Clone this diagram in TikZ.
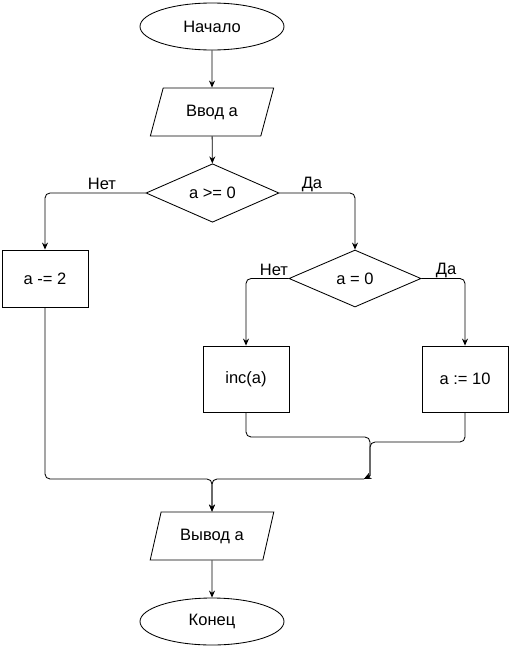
\documentclass[tikz,border=0pt]{standalone}
\usepackage{fontspec}
\setmainfont{Liberation Sans}
\usetikzlibrary{shapes.geometric,arrows.meta}
\begin{document}
\begin{tikzpicture}[x=1pt,y=-1pt, line width=0.85pt,
 every node/.style={font=\fontsize{16.5}{19}\selectfont},
 term/.style={ellipse,draw,minimum width=144pt,minimum height=47pt,inner sep=0pt},
 io/.style={trapezium,trapezium left angle=65,trapezium right angle=115,trapezium stretches=true,draw,minimum width=124pt,minimum height=48pt,inner sep=0pt},
 dec/.style={diamond,draw,minimum width=133pt,minimum height=56pt,inner sep=0pt},
 proc/.style={rectangle,draw,minimum width=86pt,inner sep=0pt},
 arr/.style={-{Stealth[length=7pt,width=6pt]}, rounded corners=5pt},
 lbl/.style={inner sep=0pt}]
\useasboundingbox (0,0) rectangle (510,648);
\fill[white] (0,0) rectangle (510,648);
\node[term] (start) at (212,26.5) {Начало};
\node[io] (in) at (212,112) {Ввод а};
\node[dec] (d1) at (212.5,193) {a >= 0};
\node[proc, minimum height=57pt] (p1) at (45,278.5) {a -= 2};
\node[dec, minimum width=132pt, minimum height=57pt] (d2) at (355,278.5) {a = 0};
\node[proc, minimum height=66pt] (p2) at (246,379) {inc(a)};
\node[proc, minimum height=66pt] (p3) at (465,379) {a := 10};
\node[io] (out) at (212,536) {Вывод а};
\node[term] (end) at (212,621.5) {Конец};
\coordinate (j) at (364,479);
\draw[arr] (start) -- (in);
\draw[arr] (in) -- (d1);
\draw[arr] (d1.west) -| (p1.north);
\draw[arr] (d1.east) -| (d2.north);
\draw[arr] (d2.west) -| (p2.north);
\draw[arr] (d2.east) -| (p3.north);
\draw[arr] (p2.south) |- (370,437) -- (370,470) .. controls (370,476) .. (j);
\draw[arr] (p3.south) |- (370,442) -- (370,470) .. controls (370,476) .. (j);
\draw[arr] (p1.south) |- (212,479) -- (out.north);
\draw[arr] (j) -- (212,479) -- (out.north);
\draw[arr] (out) -- (end);
\node[lbl] at (102,184) {Нет};
\node[lbl] at (312,184) {Да};
\node[lbl] at (274,270) {Нет};
\node[lbl] at (446,270) {Да};
\end{tikzpicture}
\end{document}
